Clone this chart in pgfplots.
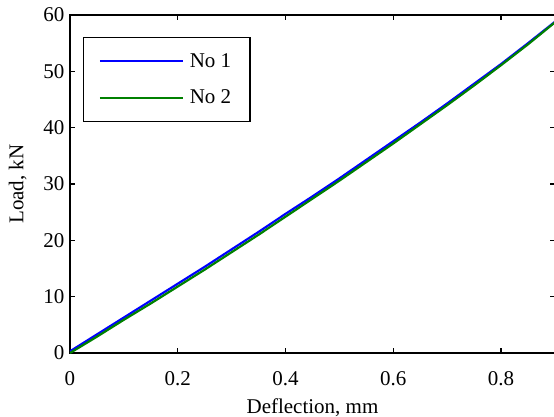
\documentclass[border=0pt]{standalone}
\usepackage{fontspec}
\setmainfont{Liberation Serif}
\usepackage{pgfplots}
\pgfplotsset{compat=1.18}
\definecolor{mblue}{RGB}{0,0,255}
\definecolor{mgreen}{RGB}{0,128,0}
\newcommand{\ff}{\fontsize{21bp}{25bp}\selectfont}
\begin{document}
\begin{tikzpicture}
\begin{axis}[
  scale only axis,
  width=485bp, height=338bp,
  xmin=0, xmax=0.9, ymin=0, ymax=60,
  xtick={0,0.2,0.4,0.6,0.8},
  xticklabels={0,0.2,0.4,0.6,0.8},
  ytick={0,10,20,30,40,50,60},
  /pgf/number format/assume math mode=true,
  tick label style={font=\ff},
  label style={font=\ff},
  xlabel={Deflection, mm},
  ylabel={Load, kN},
  xlabel style={yshift=-6bp},
  ylabel style={yshift=10bp},
  axis line style={line width=1.6bp},
  tick style={line width=1.4bp, black},
  major tick length=5bp,
  tick align=inside,
  xtick pos=both, ytick pos=both,
  xticklabel style={yshift=-15bp},
  yticklabel style={xshift=-2bp},
  legend cell align=left,
  legend style={at={(rel axis cs:0.027,0.935)}, anchor=north west,
    draw=black, line width=1.4bp, font=\ff,
    inner xsep=15bp, inner ysep=14bp, row sep=17bp},
  legend image code/.code={\draw[#1, line width=2bp] (0bp,0bp) -- (83bp,0bp);},
]
\addplot[mblue, line width=2.2bp] coordinates {
(0,0.3) (0.05,3.3) (0.1,6.3) (0.15,9.3) (0.2,12.3) (0.25,15.3) (0.3,18.4) (0.35,21.5) (0.4,24.7) (0.45,27.8) (0.5,31.0) (0.55,34.3) (0.6,37.6) (0.65,40.9) (0.7,44.3) (0.75,47.8) (0.8,51.3) (0.85,55.0) (0.9,58.8)};
\addlegendentry{\hspace*{4bp}No 1\hspace*{2bp}}
\addplot[mgreen, line width=2.2bp] coordinates {
(0,0.0) (0.05,2.9) (0.1,5.9) (0.15,8.8) (0.2,11.8) (0.25,14.8) (0.3,17.9) (0.35,21.0) (0.4,24.2) (0.45,27.4) (0.5,30.6) (0.55,33.9) (0.6,37.2) (0.65,40.6) (0.7,44.0) (0.75,47.5) (0.8,51.1) (0.85,54.8) (0.9,58.7)};
\addlegendentry{\hspace*{4bp}No 2\hspace*{2bp}}
\coordinate (O) at (rel axis cs:0,0);
\end{axis}
\pgfresetboundingbox
\path[use as bounding box] ([shift={(-70bp,-64bp)}]O) rectangle ([shift={(484bp,353bp)}]O);
\end{tikzpicture}
\end{document}
